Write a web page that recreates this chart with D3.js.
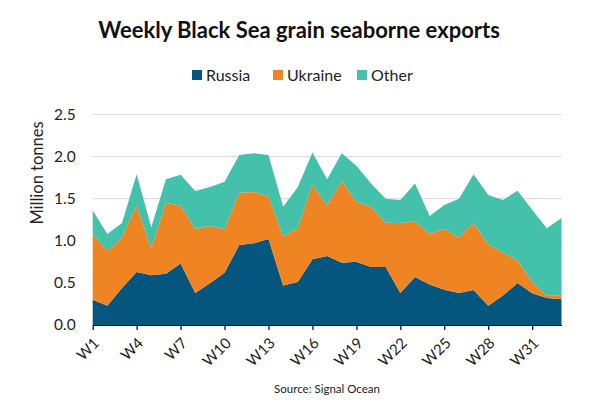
<!DOCTYPE html>
<html>
<head>
<meta charset="utf-8">
<script src="https://cdn.jsdelivr.net/npm/d3@7"></script>
<style>
  body { margin: 0; background: #fff; }
  text { font-family: Lato, "Open Sans", sans-serif; }
</style>
</head>
<body>
<div id="chart"></div>
<script>
// weeks W1..W33
var weeks = d3.range(1, 34).map(function (i) { return "W" + i; });

// million tonnes per week
var russia = [0.30, 0.23, 0.44, 0.63, 0.59, 0.61, 0.73, 0.38, 0.495, 0.62, 0.95, 0.97, 1.02,
  0.47, 0.51, 0.78, 0.82, 0.74, 0.75, 0.69, 0.69, 0.38, 0.57, 0.48, 0.42, 0.38, 0.415,
  0.23, 0.35, 0.50, 0.376, 0.32, 0.305];
var ukraine = [0.78, 0.645, 0.60, 0.79, 0.32, 0.84, 0.69, 0.76, 0.68, 0.52, 0.62, 0.61, 0.51,
  0.58, 0.64, 0.885, 0.60, 0.97, 0.715, 0.715, 0.525, 0.83, 0.66, 0.605, 0.72, 0.66, 0.795,
  0.73, 0.51, 0.27, 0.134, 0.025, 0.05];
var other = [0.28, 0.205, 0.17, 0.37, 0.25, 0.28, 0.365, 0.45, 0.465, 0.56, 0.45, 0.46, 0.49,
  0.355, 0.49, 0.385, 0.31, 0.33, 0.425, 0.275, 0.285, 0.275, 0.45, 0.21, 0.285, 0.46, 0.58,
  0.585, 0.625, 0.825, 0.86, 0.805, 0.915];

var seriesNames = ["Russia", "Ukraine", "Other"];
var colors = ["#04567e", "#ef8522", "#43c1aa"];
var yTicks = [0, 0.5, 1.0, 1.5, 2.0, 2.5];

// table for the stack layout
var table = weeks.map(function (w, i) {
  return { week: w, Russia: russia[i], Ukraine: ukraine[i], Other: other[i] };
});

var W = 600, H = 400;
var margin = { top: 114.5, right: 38.5, bottom: 75, left: 92.7 },
    width = W - margin.left - margin.right,
    height = H - margin.top - margin.bottom;

var svg = d3.select("#chart").append("svg")
    .attr("width", W)
    .attr("height", H);

var g = svg.append("g")
    .attr("transform", "translate(" + margin.left + "," + margin.top + ")");

var x = d3.scalePoint()
    .domain(weeks)
    .range([0, width]);

var y = d3.scaleLinear()
    .domain([0, 2.5])
    .range([height, 0]);

// gridlines
g.selectAll(".grid")
  .data(yTicks.slice(1))
  .enter().append("line")
    .attr("x1", 0)
    .attr("x2", width)
    .attr("y1", function (d) { return y(d); })
    .attr("y2", function (d) { return y(d); })
    .attr("stroke", "#d9d9d9")
    .attr("stroke-width", 1);

// stacked areas
var stack = d3.stack().keys(seriesNames);
var layers = stack(table);

var area = d3.area()
    .x(function (d) { return x(d.data.week); })
    .y0(function (d) { return y(d[0]); })
    .y1(function (d) { return y(d[1]); });

g.selectAll(".layer")
  .data(layers)
  .enter().append("path")
    .attr("fill", function (d, i) { return colors[i]; })
    .attr("d", area);

// y axis labels
var yAxis = g.append("g")
    .call(d3.axisLeft(y).tickValues(yTicks).tickFormat(d3.format(".1f")).tickSize(0).tickPadding(17));
yAxis.select(".domain").remove();
yAxis.selectAll("text")
    .attr("font-size", 15.5)
    .attr("fill", "#222")
    .attr("font-family", "Lato, sans-serif");

// x axis
var xAxis = g.append("g")
    .attr("transform", "translate(0," + height + ")")
    .call(d3.axisBottom(x)
      .tickValues(weeks.filter(function (d, i) { return i % 3 === 0; }))
      .tickSize(5)
      .tickSizeOuter(0));
xAxis.select(".domain").attr("stroke", "#000").attr("stroke-width", 1.2);
xAxis.selectAll(".tick line").attr("stroke", "#000").attr("stroke-width", 1.2);
xAxis.selectAll("text")
    .attr("font-size", 15)
    .attr("fill", "#222")
    .attr("font-family", "Lato, sans-serif")
    .attr("text-anchor", "end")
    .attr("dy", null)
    .attr("y", 0)
    .attr("transform", "translate(7,19) rotate(-45)");

// y axis title
svg.append("text")
    .attr("transform", "translate(43,173) rotate(-90)")
    .attr("text-anchor", "middle")
    .attr("font-size", 16.5)
    .attr("fill", "#222")
    .text("Million tonnes");

// title
svg.append("text")
    .attr("x", 299)
    .attr("y", 38)
    .attr("text-anchor", "middle")
    .attr("font-size", 22)
    .attr("font-weight", "bold")
    .attr("fill", "#111")
    .text("Weekly Black Sea grain seaborne exports");

// legend
var legendX = [192, 273, 357];
var legend = svg.selectAll(".legend")
  .data(seriesNames)
  .enter().append("g")
    .attr("transform", function (d, i) { return "translate(" + legendX[i] + ",70)"; });
legend.append("rect")
    .attr("width", 10)
    .attr("height", 10)
    .attr("fill", function (d, i) { return colors[i]; });
legend.append("text")
    .attr("x", 14)
    .attr("y", 10.5)
    .attr("font-size", 16)
    .attr("fill", "#222")
    .text(function (d) { return d; });

// source
svg.append("text")
    .attr("x", 327)
    .attr("y", 393)
    .attr("text-anchor", "middle")
    .attr("font-size", 11.5)
    .attr("fill", "#222")
    .text("Source: Signal Ocean");
</script>
</body>
</html>
